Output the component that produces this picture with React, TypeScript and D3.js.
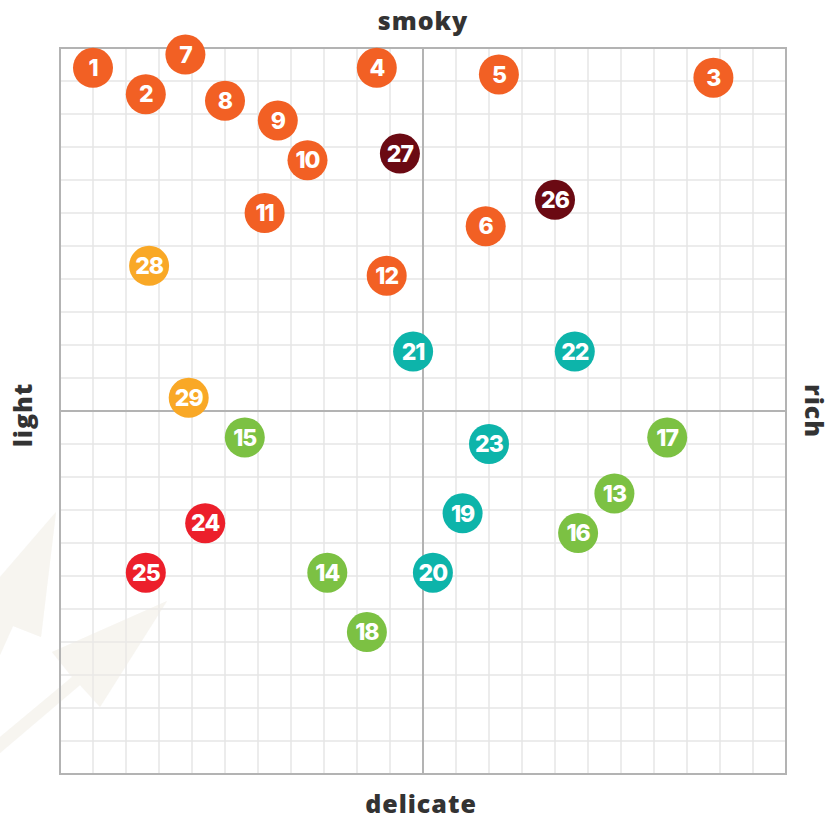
import React, { useEffect, useRef } from "react";
import * as d3 from "d3";

// flavour map data (grid units, -11..11 on both axes)
const ids = [1, 2, 3, 4, 5, 6, 7, 8, 9, 10, 11, 12, 13, 14, 15, 16, 17, 18, 19, 20, 21, 22, 23, 24, 25, 26, 27, 28, 29];
const richness = [-10, -8.4, 8.8, -1.4, 2.3, 1.9, -7.2, -6, -4.4, -3.5, -4.8, -1.1, 5.8, -2.9, -5.4, 4.7, 7.4, -1.7, 1.2, 0.3, -0.3, 4.6, 2, -6.6, -8.4, 4, -0.7, -8.3, -7.1];
const smokiness = [10.4, 9.6, 10.1, 10.4, 10.2, 5.6, 10.8, 9.4, 8.8, 7.6, 6, 4.1, -2.5, -4.9, -0.8, -3.7, -0.8, -6.7, -3.1, -4.9, 1.8, 1.8, -1, -3.4, -4.9, 6.4, 7.8, 4.4, 0.4];
const groups = ["a", "a", "a", "a", "a", "a", "a", "a", "a", "a", "a", "a", "g", "g", "g", "g", "g", "g", "t", "t", "t", "t", "t", "r", "r", "m", "m", "y", "y"];

const groupKeys = ["a", "m", "y", "t", "g", "r"];
const groupColors = ["#f26024", "#6b0a13", "#f9a826", "#0db4aa", "#7cc143", "#ec1f2b"];

const axisLabels = { top: "smoky", bottom: "delicate", left: "light", right: "rich" };

const W = 832;
const H = 819;

const arrowA = "M56,512 L41,637 L13,626 L0,655 L0,577 Z";
const arrowB = "M167,601 L100,707 L80,685 L0,753 L0,737 L72,677 L52,652 Z";

export default function App() {
  const ref = useRef<SVGSVGElement>(null);

  useEffect(() => {
    const svg = d3.select(ref.current);
    svg.selectAll("*").remove();

    const x = d3.scaleLinear().domain([-11, 11]).range([60, 786]);
    const y = d3.scaleLinear().domain([-11, 11]).range([774, 48]);
    const color = d3.scaleOrdinal<string, string>().domain(groupKeys).range(groupColors);

    // faint watermark arrows in the lower left corner
    const wm = svg.append("g").attr("fill", "#f4f0e8").attr("opacity", 0.5);
    wm.append("path").attr("d", arrowA);
    wm.append("path").attr("d", arrowB);

    // grid
    const ticks = d3.range(-11, 12);
    const grid = svg.append("g");
    grid.selectAll(".vx")
      .data(ticks)
      .join("line")
      .attr("x1", d => x(d)).attr("x2", d => x(d))
      .attr("y1", y(-11)).attr("y2", y(11))
      .attr("stroke", "#e6e6e6")
      .attr("stroke-width", 1.5);
    grid.selectAll(".hy")
      .data(ticks)
      .join("line")
      .attr("y1", d => y(d)).attr("y2", d => y(d))
      .attr("x1", x(-11)).attr("x2", x(11))
      .attr("stroke", "#e6e6e6")
      .attr("stroke-width", 1.5);

    // watermark again over the grid, very light
    const wm2 = svg.append("g").attr("fill", "#f4f0e8").attr("opacity", 0.25);
    wm2.append("path").attr("d", arrowA);
    wm2.append("path").attr("d", arrowB);

    // border + centre cross
    svg.append("rect")
      .attr("x", x(-11)).attr("y", y(11))
      .attr("width", x(11) - x(-11)).attr("height", y(-11) - y(11))
      .attr("fill", "none")
      .attr("stroke", "#b3b3b3")
      .attr("stroke-width", 2);
    svg.append("line")
      .attr("x1", x(0)).attr("x2", x(0)).attr("y1", y(-11)).attr("y2", y(11))
      .attr("stroke", "#b3b3b3").attr("stroke-width", 2);
    svg.append("line")
      .attr("y1", y(0)).attr("y2", y(0)).attr("x1", x(-11)).attr("x2", x(11))
      .attr("stroke", "#b3b3b3").attr("stroke-width", 2);

    // axis labels
    const lab = svg.append("g")
      .attr("font-family", "'Open Sans', sans-serif")
      .attr("font-weight", 800)
      .attr("font-size", 25)
      .attr("fill", "#333333")
      .attr("text-anchor", "middle")
      .attr("letter-spacing", 1);
    lab.append("text").attr("x", x(0)).attr("y", 30).text(axisLabels.top);
    lab.append("text").attr("x", x(0) - 2).attr("y", 813).text(axisLabels.bottom);
    lab.append("text")
      .attr("transform", `translate(32, ${y(0) + 4}) rotate(-90)`)
      .text(axisLabels.left);
    lab.append("text")
      .attr("transform", `translate(805, ${y(0)}) rotate(90)`)
      .text(axisLabels.right);

    // points
    const data = ids.map((id, i) => ({ id, rx: richness[i], sy: smokiness[i], g: groups[i] }));
    const pts = svg.append("g")
      .selectAll("g")
      .data(data)
      .join("g")
      .attr("transform", d => `translate(${x(d.rx)}, ${y(d.sy)})`);
    pts.append("circle")
      .attr("r", 20)
      .attr("fill", d => color(d.g));
    pts.append("text")
      .attr("text-anchor", "middle")
      .attr("dy", "0.36em")
      .attr("font-family", "Inter, sans-serif")
      .attr("font-weight", 800)
      .attr("font-size", 23)
      .attr("letter-spacing", -1)
      .attr("fill", "#ffffff")
      .text(d => d.id);
  }, []);

  return (
    <svg
      ref={ref}
      width={W}
      height={H}
      style={{ position: "absolute", left: 0, top: 0, background: "#ffffff" }}
    />
  );
}
